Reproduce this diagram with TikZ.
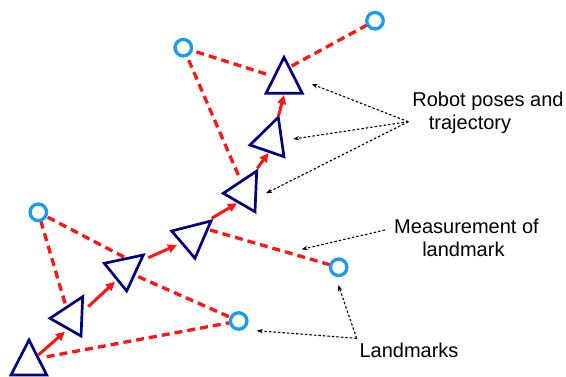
\documentclass[tikz,border=0pt]{standalone}
\usepackage{fontspec}
\setmainfont{Liberation Sans}
\usetikzlibrary{arrows.meta}
\definecolor{navy}{RGB}{0,0,128}
\definecolor{lmblue}{RGB}{25,155,240}
\definecolor{mred}{RGB}{255,20,20}
\begin{document}
\begin{tikzpicture}[x=1pt,y=-1pt,
  meas/.style={mred, line width=3.3pt, dash pattern=on 8pt off 5pt},
  traj/.style={mred, line width=3pt, -{Triangle[length=9pt,width=8.5pt]}},
  pose/.style={navy, line width=2.7pt, fill=white, line join=miter},
  lmk/.style={circle, draw=lmblue, line width=3.3pt, fill=white, minimum size=16.5pt, inner sep=0pt},
  note/.style={black, line width=1.1pt, dash pattern=on 2.5pt off 2pt, -{Stealth[length=6pt,width=4.5pt]}},
  lbl/.style={anchor=base, inner sep=0pt, font=\fontsize{20}{23}\selectfont}]
\useasboundingbox (0,0) rectangle (566,377);

% measurement lines (drawn first, under everything)
\coordinate (m1) at (46.7,356.7);
\coordinate (m2) at (65,303.3);
\coordinate (m3) at (124,257);
\coordinate (m4) at (138.3,276.7);
\coordinate (m5) at (210,230);
\coordinate (m6) at (238.3,175);
\coordinate (m7) at (266,74);
\coordinate (m8) at (291.7,66);
\coordinate (pL1) at (183.3,47.7);
\coordinate (pL2) at (375,20.7);
\coordinate (pL3) at (38.3,212.3);
\coordinate (pL4) at (238.7,321);
\coordinate (pL5) at (338.7,267.3);
\draw[meas] (m1) -- (pL4);
\draw[meas] (m2) -- (pL3);
\draw[meas] (m3) -- (pL3);
\draw[meas] (m4) -- (pL4);
\draw[meas] (m5) -- (pL5);
\draw[meas] (m6) -- (pL1);
\draw[meas] (m7) -- (pL1);
\draw[meas] (m8) -- (pL2);

% landmarks
\node[lmk] (L1) at (pL1) {};
\node[lmk] (L2) at (pL2) {};
\node[lmk] (L3) at (pL3) {};
\node[lmk] (L4) at (pL4) {};
\node[lmk] (L5) at (pL5) {};

% robot poses
\draw[pose] (29,340) -- (11,375) -- (46.7,375) -- cycle;
\draw[pose] (50,318.3) -- (82.7,296.7) -- (81,336) -- cycle;
\draw[pose] (104.3,263.3) -- (143.3,255) -- (126.7,291) -- cycle;
\draw[pose] (171.7,231) -- (211,221) -- (195,258.3) -- cycle;
\draw[pose] (223.3,193.3) -- (256.7,171) -- (255,211.7) -- cycle;
\draw[pose] (250,145) -- (278.3,117.3) -- (284,156.7) -- cycle;
\draw[pose] (284,57.3) -- (266,93.3) -- (302.3,93.3) -- cycle;

% trajectory
\coordinate (a1s) at (38.3,355);  \coordinate (a1e) at (65,331.7);
\coordinate (a2s) at (88.3,306.7); \coordinate (a2e) at (115,281.7);
\coordinate (a3s) at (148.3,257.7); \coordinate (a3e) at (177,245);
\coordinate (a4s) at (211.7,218.3); \coordinate (a4e) at (237,203.3);
\coordinate (a5s) at (257.3,168.3); \coordinate (a5e) at (268.5,153);
\coordinate (a6s) at (278.3,116.7); \coordinate (a6e) at (284,95);
\draw[traj] (a1s) -- (a1e);
\draw[traj] (a2s) -- (a2e);
\draw[traj] (a3s) -- (a3e);
\draw[traj] (a4s) -- (a4e);
\draw[traj] (a5s) -- (a5e);
\draw[traj] (a6s) -- (a6e);

% labels
\node[lbl] (t1) at (488,106.7) {Robot poses and};
\node[lbl] (t2) at (470,130) {trajectory};
\node[lbl] (t3) at (466.5,234) {Measurement of};
\node[lbl] (t4) at (463.4,256.7) {landmark};
\node[lbl] (t5) at (409,357.7) {Landmarks};

% annotation arrows
\coordinate (o1) at (408.3,121.7);
\coordinate (o2) at (385,230);
\coordinate (o3) at (356.7,338.3);
\coordinate (g1) at (311.7,84);
\coordinate (g2) at (293.3,139);
\coordinate (g3) at (266,193.3);
\coordinate (g4) at (301.7,249.3);
\coordinate (g5) at (338.3,285);
\coordinate (g6) at (256.7,330.7);
\draw[note] (o1) -- (g1);
\draw[note] (o1) -- (g2);
\draw[note] (o1) -- (g3);
\draw[note] (o2) -- (g4);
\draw[note] (o3) -- (g5);
\draw[note] (o3) -- (g6);
\end{tikzpicture}
\end{document}
